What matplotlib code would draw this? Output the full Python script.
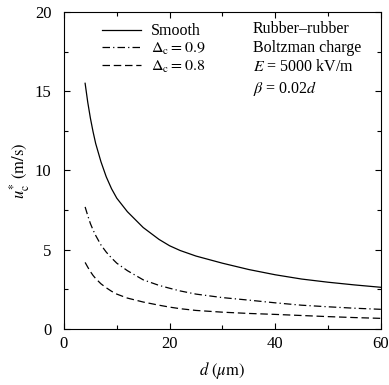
import matplotlib
matplotlib.use("Agg")
import matplotlib.pyplot as plt

plt.rcParams['font.family'] = ['Liberation Serif', 'DejaVu Serif']
plt.rcParams['mathtext.fontset'] = 'stix'

d = [4, 4.5, 5, 5.5, 6, 7, 8, 9, 10, 12, 15, 18, 20, 22, 25, 30, 35, 40, 45, 50, 55, 60]
smooth = [15.5, 14.3, 13.3, 12.45, 11.7, 10.55, 9.6, 8.85, 8.25, 7.4, 6.4, 5.65, 5.25, 4.95,
          4.6, 4.15, 3.75, 3.42, 3.15, 2.95, 2.78, 2.63]
delta09 = [7.7, 7.15, 6.65, 6.25, 5.9, 5.3, 4.85, 4.48, 4.15, 3.68, 3.1, 2.75, 2.57, 2.4,
           2.2, 1.98, 1.82, 1.65, 1.5, 1.4, 1.31, 1.24]
delta08 = [4.2, 3.9, 3.62, 3.38, 3.18, 2.85, 2.6, 2.38, 2.2, 1.95, 1.7, 1.5, 1.38, 1.28,
           1.17, 1.06, 0.98, 0.92, 0.85, 0.78, 0.72, 0.67]

fig = plt.figure(figsize=(3.89, 3.85), dpi=100)
ax = fig.add_axes([0.1645, 0.1455, 0.8145, 0.8235])

ax.plot(d, smooth, color='black', lw=0.9, label='Smooth')
ax.plot(d, delta09, color='black', lw=0.9, dashes=(6, 2.5, 1, 2.5), label=r'$\Delta_{\rm c} = 0.9$')
ax.plot(d, delta08, color='black', lw=0.9, dashes=(6, 3), label=r'$\Delta_{\rm c} = 0.8$')

ax.set_xlim(0, 60)
ax.set_ylim(0, 20)
ax.set_xticks([0, 20, 40, 60])
ax.set_xticks([10, 30, 50], minor=True)
ax.set_yticks([0, 5, 10, 15, 20])
ax.set_yticks([2.5, 7.5, 12.5, 17.5], minor=True)
ax.tick_params(which='both', direction='in', top=True, right=True, labelsize=12)
ax.tick_params(which='major', length=4, width=0.8)
ax.tick_params(which='minor', length=3, width=0.8)
ax.tick_params(axis='x', pad=5)
ax.tick_params(axis='y', pad=9)
for s in ax.spines.values():
    s.set_linewidth(0.8)

ax.set_xlabel(r'$d\ (\mu{\rm m})$', fontsize=12, labelpad=6)
ax.set_ylabel(r'$u_{\rm c}^{*}\ {\rm (m/s)}$', fontsize=12, labelpad=2)

leg = ax.legend(loc='upper left', bbox_to_anchor=(0.075, 1.01), frameon=False,
                fontsize=11.5, handlelength=2.45, handletextpad=0.6, labelspacing=0.1)

ax.text(0.595, 0.97, 'Rubber\u2013rubber\nBoltzman charge\n$E$ = 5000 kV/m\n$\\beta$ = 0.02$d$',
        transform=ax.transAxes, ha='left', va='top', fontsize=11.5, linespacing=1.25)

fig.savefig('out.png', dpi=100)
